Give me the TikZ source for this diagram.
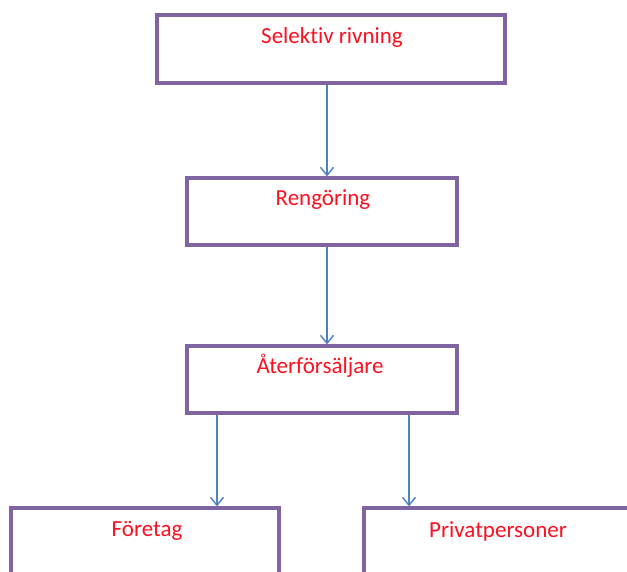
\documentclass[tikz,border=0pt]{standalone}
\usepackage{fontspec}
\setmainfont{Carlito}[Ligatures=NoCommon]
\usetikzlibrary{arrows.meta}
\definecolor{boxline}{HTML}{8064A2}
\definecolor{flow}{HTML}{4F81BD}
\definecolor{lbltext}{HTML}{FF1020}
\tikzset{
  x=1pt, y=-1pt,
  stepbox/.style={draw=boxline, line width=3.2pt, fill=white, rectangle, inner sep=0pt},
  lbl/.style={text=lbltext, font=\fontsize{23}{27}\selectfont, inner sep=0pt, anchor=base},
  arr/.style={draw=flow, line width=1.4pt, -{Straight Barb[length=8pt,width=13pt,line width=1.4pt]}},
}
\begin{document}
\begin{tikzpicture}
\useasboundingbox (0,0) rectangle (627,571);
\begin{scope}
\clip (0,0) rectangle (627,571);
% boxes
\node[stepbox, minimum width=348pt, minimum height=68pt] (b1) at (331,49) {};
\node[stepbox, minimum width=270pt, minimum height=67pt] (b2) at (322,211.5) {};
\node[stepbox, minimum width=270pt, minimum height=67pt] (b3) at (322,379.5) {};
\node[stepbox, minimum width=268pt, minimum height=67pt] (b4) at (145,541.5) {};
\node[stepbox, minimum width=268pt, minimum height=67pt] (b5) at (498,541.5) {};
% labels, placed on their baselines
\node[lbl] (t1) at (332,43) {Selektiv rivning};
\node[lbl] (t2) at (323,205) {Rengöring};
\node[lbl] (t3) at (320,373) {Återförsäljare};
\node[lbl] (t4) at (147,536) {Företag};
\node[lbl] (t5) at (498,537) {Privatpersoner};
% connector columns
\coordinate (c1) at (327,0);
\coordinate (c2) at (217,0);
\coordinate (c3) at (409,0);
\draw[arr] (b1.south -| c1) -- (b2.north -| c1);
\draw[arr] (b2.south -| c1) -- (b3.north -| c1);
\draw[arr] (b3.south -| c2) -- (b4.north -| c2);
\draw[arr] (b3.south -| c3) -- (b5.north -| c3);
\end{scope}
\end{tikzpicture}
\end{document}
